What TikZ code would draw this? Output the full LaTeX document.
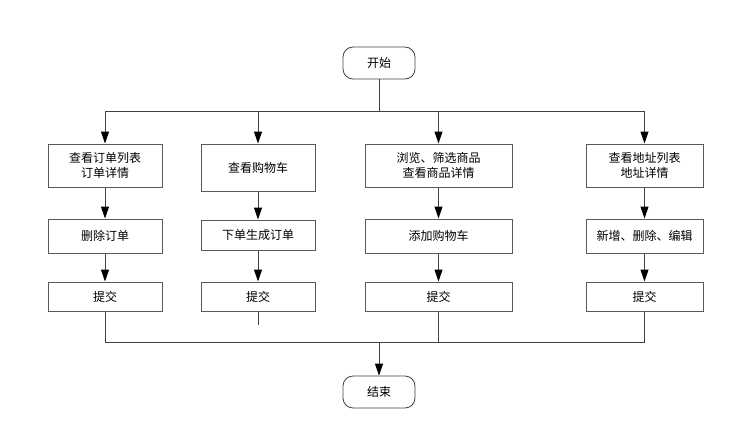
\documentclass[tikz,border=0pt]{standalone}
\usepackage{fontspec}
\newfontfamily\cjk{Noto Sans CJK SC}
\usepackage{xcolor}
\usetikzlibrary{arrows.meta, positioning}

\begin{document}
\begin{tikzpicture}[x=1pt, y=-1pt, >={Triangle[length=12pt, width=8pt, color=black]},
        every node/.style={font=\cjk\fontsize{12}{15}\selectfont},
        stepbox/.style={rectangle, draw=black!65, line width=1pt, align=center, inner sep=0pt, minimum width=114pt},
        term/.style={rectangle, draw=black!75, line width=0.8pt, rounded corners=10pt, minimum width=72pt, minimum height=32pt, inner sep=0pt},
        flow/.style={draw=black!75, line width=1pt}]
        \useasboundingbox (0,0) rectangle (738,439);

        \node (start) [term] at (379,63) {开始};
        \node (stop) [term] at (379,392) {结束};

        % orders
        \node (a1) [stepbox, minimum height=43pt] at (105,165.5) {查看订单列表\\订单详情};
        \node (b1) [stepbox, minimum height=34pt, below=31pt of a1] {删除订单};
        \node (c1) [stepbox, minimum height=29pt, below=28pt of b1] {提交};
        % cart
        \node (a2) [stepbox, minimum height=47pt] at (258,167.5) {查看购物车};
        \node (b2) [stepbox, minimum height=30pt, below=28pt of a2] {下单生成订单};
        \node (c2) [stepbox, minimum height=29pt, below=31pt of b2] {提交};
        % goods
        \node (a3) [stepbox, minimum width=147pt, minimum height=43pt] at (438.5,165.5) {浏览、筛选商品\\查看商品详情};
        \node (b3) [stepbox, minimum width=147pt, minimum height=34pt, below=31pt of a3] {添加购物车};
        \node (c3) [stepbox, minimum width=147pt, minimum height=29pt, below=28pt of b3] {提交};
        % address
        \node (a4) [stepbox, minimum width=117pt, minimum height=43pt] at (644.5,165.5) {查看地址列表\\地址详情};
        \node (b4) [stepbox, minimum width=117pt, minimum height=34pt, below=31pt of a4] {新增、删除、编辑};
        \node (c4) [stepbox, minimum width=117pt, minimum height=29pt, below=28pt of b4] {提交};

        \coordinate (split) at (379,111);
        \coordinate (join) at (379,342);

        \draw[flow] (start) -- (split);
        \draw[flow] (a1 |- split) -- (a4 |- split);
        \foreach \i in {1,2,3,4} {
            \draw[flow, ->] (a\i |- split) -- (a\i);
            \draw[flow, ->] (a\i) -- (b\i);
            \draw[flow, ->] (b\i) -- (c\i);
        }

        \draw[flow] (c1) -- (c1 |- join) -- (c4 |- join) -- (c4);
        \draw[flow] (c2) -- ++(0,28);
        \draw[flow] (c3) -- (c3 |- join);
        \draw[flow, ->] (join) -- (stop);
    \end{tikzpicture}
\end{document}
